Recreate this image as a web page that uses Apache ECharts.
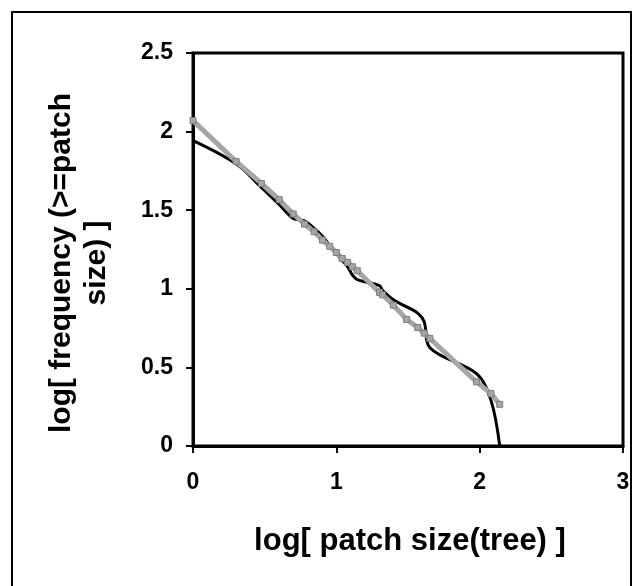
<!DOCTYPE html>
<html><head><meta charset="utf-8">
<script src="https://cdn.jsdelivr.net/npm/echarts@6/dist/echarts.min.js"></script>
<style>html,body{margin:0;padding:0;background:#fff}#c{width:639px;height:586px}</style>
</head><body><div id="c"></div>
<script>
// log patch size values
var fitX = [0, 0.301, 0.477, 0.602, 0.699, 0.778, 0.845, 0.903, 0.954, 1.0, 1.041, 1.079, 1.114, 1.146, 1.301, 1.322, 1.398, 1.491, 1.568, 1.613, 1.653, 1.978, 2.079, 2.14];
var fitY = [2.07, 1.81, 1.67, 1.567, 1.476, 1.412, 1.363, 1.31, 1.27, 1.231, 1.193, 1.168, 1.14, 1.115, 0.977, 0.962, 0.896, 0.805, 0.754, 0.718, 0.684, 0.408, 0.333, 0.265];
var obsX = [0, 0.301, 0.477, 0.602, 0.699, 0.778, 0.845, 0.903, 0.954, 1.0, 1.041, 1.079, 1.114, 1.146, 1.301, 1.322, 1.398, 1.491, 1.568, 1.613, 1.653, 1.978, 2.079, 2.14];
var obsY = [1.943, 1.795, 1.645, 1.535, 1.448, 1.432, 1.385, 1.335, 1.275, 1.225, 1.18, 1.14, 1.085, 1.058, 1.02, 0.99, 0.93, 0.885, 0.845, 0.79, 0.625, 0.46, 0.29, 0.0];
var xTicks = [0, 1, 2, 3];
var yTicks = [0, 0.5, 1, 1.5, 2, 2.5];
var xTitle = 'log[ patch size(tree) ]';
var yTitle1 = 'log[ frequency (>=patch';
var yTitle2 = 'size) ]';

function pairs(xs, ys){ return xs.map(function(x,i){ return [x, ys[i]]; }); }

var chart = echarts.init(document.getElementById('c'), null, {renderer:'canvas'});
var font = 'Liberation Sans, Arial, sans-serif';
chart.setOption({
  animation: false,
  backgroundColor: '#fff',
  grid: {left: 193, top: 53, width: 430, height: 393, show: true, borderColor: '#000', borderWidth: 3, backgroundColor: 'transparent'},
  xAxis: {
    type: 'value', min: xTicks[0], max: xTicks[xTicks.length-1], interval: 1,
    axisLine: {show: true, onZero: false, lineStyle: {color: '#000', width: 3}},
    axisTick: {show: true, inside: false, length: 7, lineStyle: {color: '#000', width: 2}},
    splitLine: {show: false},
    axisLabel: {color: '#000', fontSize: 23, fontWeight: 'bold', fontFamily: font, margin: 25,
      formatter: function(v){ return xTicks.indexOf(v) >= 0 ? String(v) : ''; }}
  },
  yAxis: {
    type: 'value', min: yTicks[0], max: yTicks[yTicks.length-1], interval: 0.5,
    axisLine: {show: true, onZero: false, lineStyle: {color: '#000', width: 3}},
    axisTick: {show: true, inside: false, length: 7, lineStyle: {color: '#000', width: 2}},
    splitLine: {show: false},
    axisLabel: {color: '#000', fontSize: 23, fontWeight: 'bold', fontFamily: font, margin: 20,
      formatter: function(v){ return String(v); }}
  },
  series: [
    {type: 'line', data: pairs(obsX, obsY), smooth: 0.35, showSymbol: false, symbol: 'none',
     lineStyle: {color: '#000', width: 3}, z: 2},
    {type: 'line', data: pairs(fitX, fitY), smooth: false, symbol: 'rect', symbolSize: 6, showSymbol: true,
     itemStyle: {color: '#a6a6a6', borderColor: '#7f7f7f', borderWidth: 1},
     lineStyle: {color: '#a6a6a6', width: 5}, z: 3}
  ],
  graphic: [
    {type: 'rect', shape: {x: 12, y: 12, width: 619, height: 590}, style: {fill: 'none', stroke: '#000', lineWidth: 2}, silent: true},
    {type: 'text', x: 410, y: 541, style: {text: xTitle, font: 'bold 31px ' + font, fill: '#000', textAlign: 'center', textVerticalAlign: 'middle'}},
    {type: 'text', x: 62, y: 263, rotation: Math.PI/2, style: {text: yTitle1, font: 'bold 30px ' + font, fill: '#000', textAlign: 'center', textVerticalAlign: 'middle'}},
    {type: 'text', x: 97, y: 263, rotation: Math.PI/2, style: {text: yTitle2, font: 'bold 30px ' + font, fill: '#000', textAlign: 'center', textVerticalAlign: 'middle'}}
  ]
});
</script></body></html>
